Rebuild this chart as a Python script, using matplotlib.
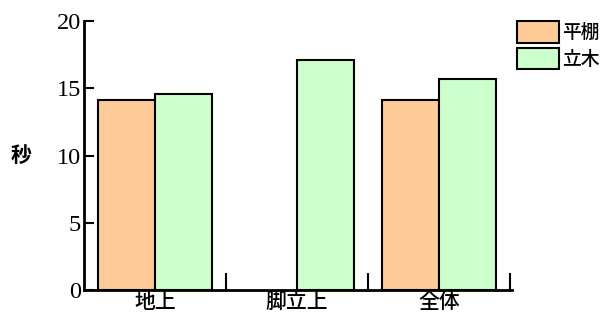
import numpy as np
import matplotlib.pyplot as plt

plt.rcParams['font.family'] = ['Noto Sans CJK JP', 'DejaVu Sans']

# 作業位置ごとの所要時間（秒）
categories = ['地上', '脚立上', '全体']
series_names = ['平棚', '立木']
hiradana = [14.1, np.nan, 14.1]
ryuboku = [14.6, 17.1, 15.7]
colors = ['#FFCC99', '#CCFFCC']

fig = plt.figure(figsize=(6.04, 3.2), dpi=100)
ax = fig.add_axes([0.139, 0.094, 0.709, 0.840])

x = np.arange(len(categories))
w = 0.4
ax.bar(x - w / 2, hiradana, w, color=colors[0], edgecolor='black', linewidth=1.5, label=series_names[0])
ax.bar(x + w / 2, ryuboku, w, color=colors[1], edgecolor='black', linewidth=1.5, label=series_names[1])

ax.set_xlim(-0.5, 2.515)
ax.set_ylim(0, 20)

# 区切りの目盛りは境界に、ラベルは中央に
ax.set_xticks(np.append(x[:-1] + 0.5, 2.5))
ax.set_xticklabels([])
ax.set_xticks(x, minor=True)
ax.set_xticklabels(categories, minor=True, fontsize=15, fontweight='medium')
ax.tick_params(axis='x', which='major', direction='in', length=12, width=1.5)
ax.tick_params(axis='x', which='minor', length=0, pad=1)

ax.set_yticks([0, 5, 10, 15, 20])
ax.set_yticklabels(['0', '5', '10', '15', '20'], fontfamily='Liberation Serif', fontsize=17.5)
ax.tick_params(axis='y', direction='in', length=7, width=1.5, pad=2)

for side in ['top', 'right']:
    ax.spines[side].set_visible(False)
for side in ['left', 'bottom']:
    ax.spines[side].set_linewidth(2)

ax.set_ylabel('秒', rotation=0, fontsize=15, fontweight='bold', labelpad=26, va='center')

ax.legend(loc='upper left', bbox_to_anchor=(1.012, 1.0), frameon=False,
          prop={'size': 13.5, 'weight': 'medium'},
          handlelength=2.2, handleheight=1.4, handletextpad=0.2, labelspacing=0.27, borderaxespad=0,
          borderpad=0)

fig.savefig('out.png', dpi=100)
